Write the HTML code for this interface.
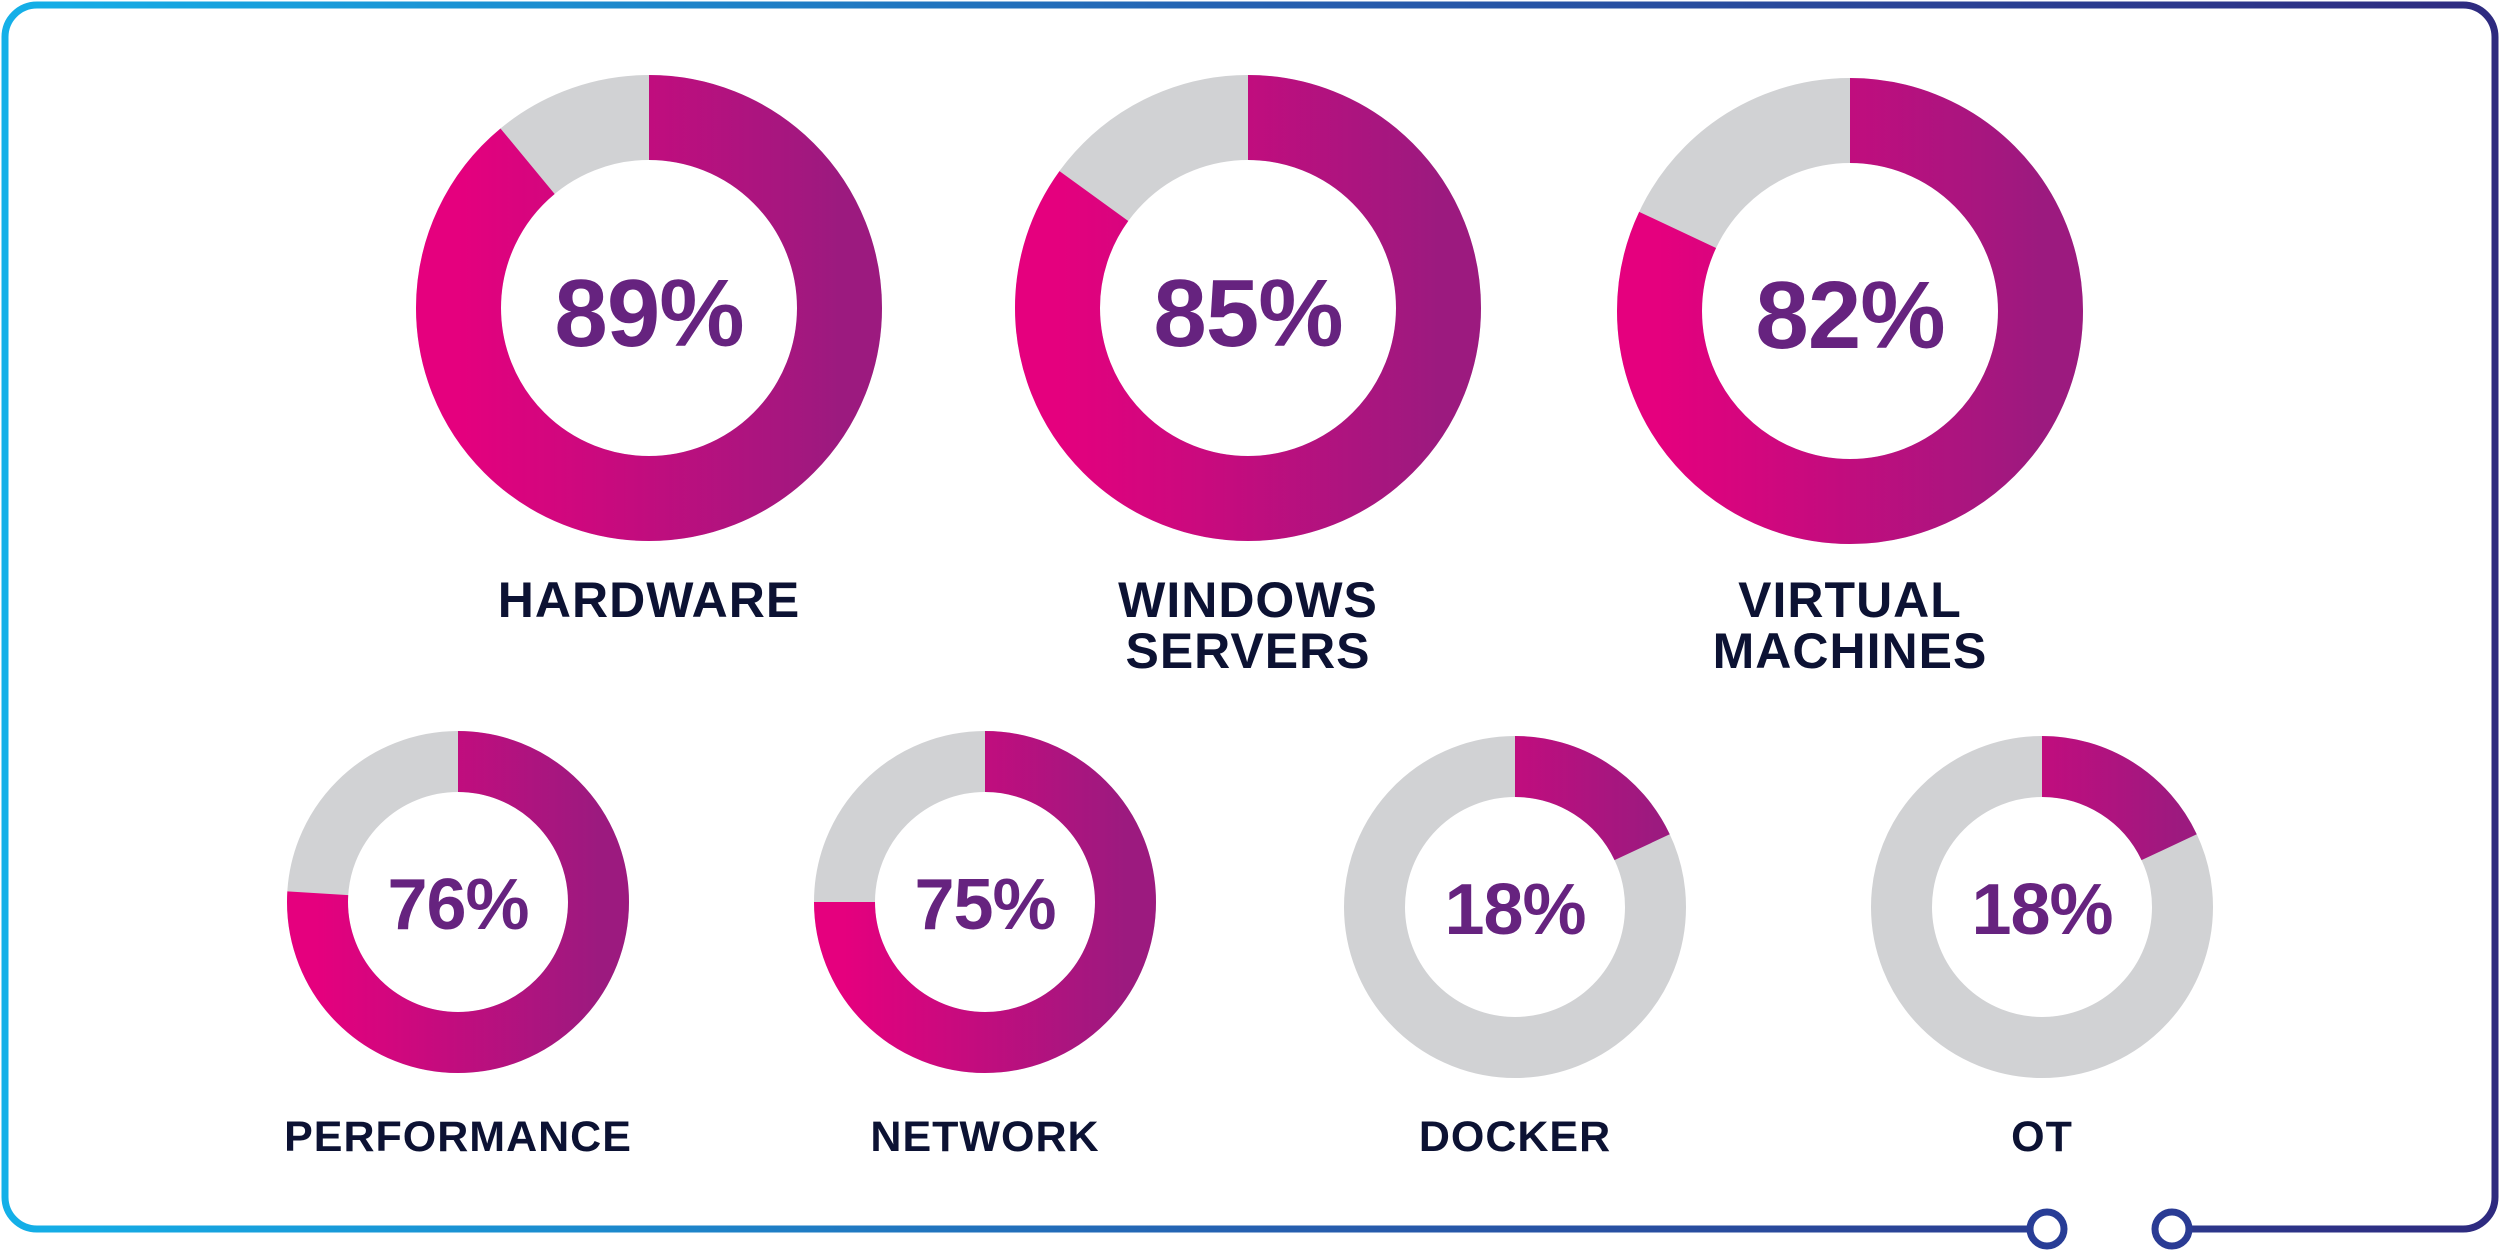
<!DOCTYPE html>
<html><head><meta charset="utf-8"><style>
html,body{margin:0;padding:0;background:#fff;}
svg{display:block;}
.p{font-family:"Liberation Sans",sans-serif;fill:#66237f;text-anchor:middle;font-weight:bold;}
.l{font-family:"Liberation Sans",sans-serif;fill:#0c1233;text-anchor:middle;font-weight:bold;letter-spacing:1px;}
</style></head><body>
<svg width="2500" height="1250" viewBox="0 0 2500 1250" xmlns="http://www.w3.org/2000/svg">
<defs>
<linearGradient id="b" x1="0" y1="0" x2="2500" y2="0" gradientUnits="userSpaceOnUse">
<stop offset="0" stop-color="#14b0e8"/><stop offset="0.5" stop-color="#2560b0"/><stop offset="1" stop-color="#2e2a7f"/></linearGradient>
<linearGradient id="g" x1="0" y1="0" x2="0" y2="1">
<stop offset="0" stop-color="#e5007e"/><stop offset="1" stop-color="#9c1a7f"/></linearGradient>
</defs>
<rect x="5" y="5" width="2490" height="1224" rx="32" fill="none" stroke="url(#b)" stroke-width="7"/>
<rect x="2064" y="1220" width="92" height="20" fill="#fff"/>
<circle cx="2047" cy="1229" r="17" fill="#fff" stroke="#283d96" stroke-width="7"/>
<circle cx="2172" cy="1229" r="17" fill="#fff" stroke="#2a3b94" stroke-width="7"/>

<g>
<circle cx="649" cy="308" r="190.5" fill="none" stroke="#d1d2d4" stroke-width="85"/>
<circle cx="649" cy="308" r="190.5" fill="none" stroke="url(#g)" stroke-width="85" pathLength="100" stroke-dasharray="89 100" transform="rotate(-90 649 308)"/>
<text class="p" x="649" y="346" font-size="96" letter-spacing="-1">89%</text>
<text class="l" x="649" y="617" font-size="50">HARDWARE</text>
</g>
<g>
<circle cx="1248" cy="308" r="190.5" fill="none" stroke="#d1d2d4" stroke-width="85"/>
<circle cx="1248" cy="308" r="190.5" fill="none" stroke="url(#g)" stroke-width="85" pathLength="100" stroke-dasharray="85 100" transform="rotate(-90 1248 308)"/>
<text class="p" x="1248" y="346" font-size="96" letter-spacing="-1">85%</text>
<text class="l" x="1248" y="617" font-size="50">WINDOWS</text>
<text class="l" x="1248" y="668" font-size="50">SERVERS</text>
</g>
<g>
<circle cx="1850" cy="311" r="190.5" fill="none" stroke="#d1d2d4" stroke-width="85"/>
<circle cx="1850" cy="311" r="190.5" fill="none" stroke="url(#g)" stroke-width="85" pathLength="100" stroke-dasharray="82 100" transform="rotate(-90 1850 311)"/>
<text class="p" x="1850" y="348" font-size="96" letter-spacing="-1">82%</text>
<text class="l" x="1850" y="617" font-size="50">VIRTUAL</text>
<text class="l" x="1850" y="668" font-size="50">MACHINES</text>
</g>

<g>
<circle cx="458" cy="902" r="140.5" fill="none" stroke="#d1d2d4" stroke-width="61"/>
<circle cx="458" cy="902" r="140.5" fill="none" stroke="url(#g)" stroke-width="61" pathLength="100" stroke-dasharray="76 100" transform="rotate(-90 458 902)"/>
<text class="p" x="458" y="929" font-size="72" letter-spacing="-1">76%</text>
<text class="l" x="458" y="1151" font-size="43" letter-spacing="0">PERFORMANCE</text>
</g>
<g>
<circle cx="985" cy="902" r="140.5" fill="none" stroke="#d1d2d4" stroke-width="61"/>
<circle cx="985" cy="902" r="140.5" fill="none" stroke="url(#g)" stroke-width="61" pathLength="100" stroke-dasharray="75 100" transform="rotate(-90 985 902)"/>
<text class="p" x="985" y="929" font-size="72" letter-spacing="-1">75%</text>
<text class="l" x="985" y="1151" font-size="43">NETWORK</text>
</g>
<g>
<circle cx="1515" cy="907" r="140.5" fill="none" stroke="#d1d2d4" stroke-width="61"/>
<circle cx="1515" cy="907" r="140.5" fill="none" stroke="url(#g)" stroke-width="61" pathLength="100" stroke-dasharray="18 100" transform="rotate(-90 1515 907)"/>
<text class="p" x="1515" y="934" font-size="72" letter-spacing="-1">18%</text>
<text class="l" x="1515" y="1151" font-size="43">DOCKER</text>
</g>
<g>
<circle cx="2042" cy="907" r="140.5" fill="none" stroke="#d1d2d4" stroke-width="61"/>
<circle cx="2042" cy="907" r="140.5" fill="none" stroke="url(#g)" stroke-width="61" pathLength="100" stroke-dasharray="18 100" transform="rotate(-90 2042 907)"/>
<text class="p" x="2042" y="934" font-size="72" letter-spacing="-1">18%</text>
<text class="l" x="2042" y="1151" font-size="43">OT</text>
</g>
</svg>
</body></html>
